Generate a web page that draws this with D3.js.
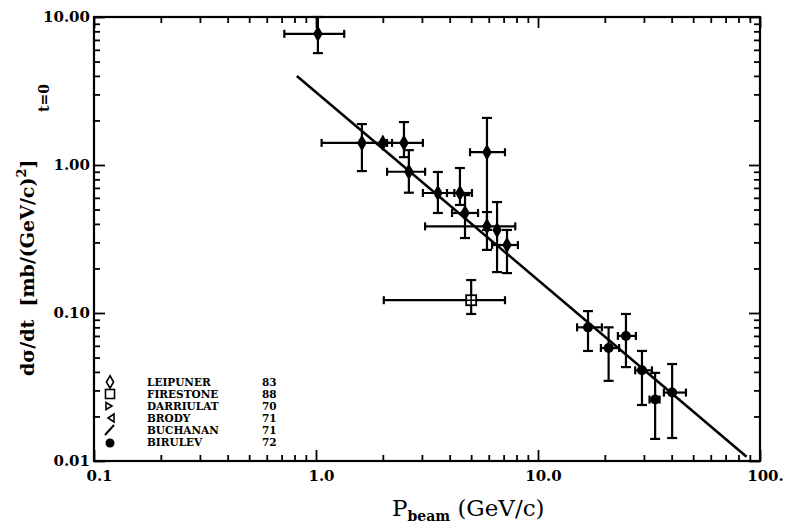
<!DOCTYPE html>
<html><head><meta charset="utf-8">
<script src="https://cdn.jsdelivr.net/npm/d3@7"></script>
<style>body{margin:0;background:#fff}</style></head>
<body><svg id="c" width="788" height="527"></svg>
<script>
// ---- data ----
const pBeam  = [1.02, 1.61, 2.00, 2.49, 2.62, 3.54, 4.45, 4.69, 5.89, 5.89, 6.54, 7.25, 5.0, 16.8, 20.8, 24.9, 29.4, 33.7, 40.2];
const sigma  = [7.7, 1.41, 1.41, 1.41, 0.90, 0.647, 0.647, 0.474, 1.22, 0.385, 0.364, 0.288, 0.122, 0.080, 0.058, 0.070, 0.041, 0.026, 0.029];
const pLow   = [0.72, 1.06, 2.00, 2.09, 2.09, 3.03, 3.89, 4.10, 4.94, 3.10, 6.54, 6.21, 2.02, 15.0, 19.2, 22.9, 27.4, 31.8, 36.9];
const pHigh  = [1.34, 2.20, 2.00, 3.03, 3.10, 4.20, 5.04, 5.37, 7.10, 7.90, 6.54, 8.12, 7.10, 19.4, 23.2, 27.6, 32.6, 35.3, 46.4];
const sLow   = [5.7, 0.91, 1.41, 1.13, 0.65, 0.474, 0.537, 0.321, 0.364, 0.267, 0.189, 0.186, 0.0985, 0.0554, 0.0348, 0.0431, 0.0239, 0.0141, 0.0143];
const sHigh  = [10.0, 1.89, 1.41, 1.95, 1.26, 0.897, 0.954, 0.626, 2.08, 0.481, 0.562, 0.364, 0.167, 0.103, 0.080, 0.0985, 0.0554, 0.0394, 0.0452];
const marker = ["diamond","diamond","diamond","diamond","diamond","diamond","diamond","diamond","diamond","diamond","diamond","diamond","square","circle","circle","circle","circle","circle","circle"];

const fitP = [0.82, 87];
const fitS = [4.0, 0.0107];

const xTickValues = [0.1, 1, 10, 100];
const xTickLabels = ["0.1", "1.0", "10.0", "100."];
const yTickValues = [0.01, 0.1, 1, 10];
const yTickLabels = ["0.01", "0.10", "1.00", "10.00"];

const legendNames = ["LEIPUNER", "FIRESTONE", "DARRIULAT", "BRODY", "BUCHANAN", "BIRULEV"];
const legendYears = ["83", "88", "70", "71", "71", "72"];
const legendSym   = ["odiamond", "osquare", "rtri", "ltri", "slash", "circle"];

// ---- layout ----
const L = 94, R = 760, T = 17, B = 461;
const svg = d3.select("#c");
const x = d3.scaleLog().domain([0.1, 100]).range([L, R]);
const y = d3.scaleLog().domain([0.01, 10]).range([B, T]);
const serifB = "'DejaVu Serif', 'Liberation Serif', serif";

const minorX = x.ticks().filter(v => !xTickValues.some(m => Math.abs(m - v) < 1e-9));
const minorY = y.ticks().filter(v => !yTickValues.some(m => Math.abs(m - v) < 1e-9));

function styleAxis(g) {
  g.select(".domain").remove();
  g.selectAll("line").attr("stroke", "#000").attr("stroke-width", 1.8);
}
// bottom
svg.append("g").attr("transform", `translate(0,${B})`)
  .call(d3.axisBottom(x).tickValues(minorX).tickSize(-6).tickFormat("")).call(styleAxis);
svg.append("g").attr("transform", `translate(0,${B})`)
  .call(d3.axisBottom(x).tickValues(xTickValues).tickSize(-11).tickPadding(9)
        .tickFormat((d, i) => xTickLabels[i])).call(styleAxis)
  .selectAll("text").attr("font-family", serifB).attr("font-weight", "bold")
  .attr("font-size", 15).attr("fill", "#000").attr("dx", 5);
// top
svg.append("g").attr("transform", `translate(0,${T})`)
  .call(d3.axisTop(x).tickValues(minorX).tickSize(-6).tickFormat("")).call(styleAxis);
svg.append("g").attr("transform", `translate(0,${T})`)
  .call(d3.axisTop(x).tickValues(xTickValues).tickSize(-11).tickFormat("")).call(styleAxis);
// left
svg.append("g").attr("transform", `translate(${L},0)`)
  .call(d3.axisLeft(y).tickValues(minorY).tickSize(-6).tickFormat("")).call(styleAxis);
svg.append("g").attr("transform", `translate(${L},0)`)
  .call(d3.axisLeft(y).tickValues(yTickValues).tickSize(-11).tickPadding(4)
        .tickFormat((d, i) => yTickLabels[i])).call(styleAxis)
  .selectAll("text").attr("font-family", serifB).attr("font-weight", "bold")
  .attr("font-size", 15).attr("fill", "#000");
// right
svg.append("g").attr("transform", `translate(${R},0)`)
  .call(d3.axisRight(y).tickValues(minorY).tickSize(-6).tickFormat("")).call(styleAxis);
svg.append("g").attr("transform", `translate(${R},0)`)
  .call(d3.axisRight(y).tickValues(yTickValues).tickSize(-11).tickFormat("")).call(styleAxis);

// frame
svg.append("rect").attr("x", L).attr("y", T).attr("width", R - L).attr("height", B - T)
  .attr("fill", "none").attr("stroke", "#000").attr("stroke-width", 2.2);

// fit line
svg.append("line")
  .attr("x1", x(fitP[0])).attr("y1", y(fitS[0]))
  .attr("x2", x(fitP[1])).attr("y2", y(fitS[1]))
  .attr("stroke", "#000").attr("stroke-width", 2.6);

// error bars
const eg = svg.append("g").attr("stroke", "#000").attr("stroke-width", 2.2).attr("fill", "none");
const cap = 5;
pBeam.forEach((p, i) => {
  const cx = x(p), cy = y(sigma[i]);
  if (pLow[i] < pHigh[i]) {
    const x1 = x(pLow[i]), x2 = x(pHigh[i]);
    eg.append("line").attr("x1", x1).attr("x2", x2).attr("y1", cy).attr("y2", cy);
    eg.append("line").attr("x1", x1).attr("x2", x1).attr("y1", cy - 4).attr("y2", cy + 4);
    eg.append("line").attr("x1", x2).attr("x2", x2).attr("y1", cy - 4).attr("y2", cy + 4);
  }
  if (sLow[i] < sHigh[i]) {
    const y1 = y(sLow[i]), y2 = y(sHigh[i]);
    eg.append("line").attr("x1", cx).attr("x2", cx).attr("y1", y1).attr("y2", y2);
    eg.append("line").attr("x1", cx - cap).attr("x2", cx + cap).attr("y1", y1).attr("y2", y1);
    eg.append("line").attr("x1", cx - cap).attr("x2", cx + cap).attr("y1", y2).attr("y2", y2);
  }
});

// markers
const mg = svg.append("g");
pBeam.forEach((p, i) => {
  const cx = x(p), cy = y(sigma[i]);
  if (marker[i] === "circle") {
    mg.append("circle").attr("cx", cx).attr("cy", cy).attr("r", 5).attr("fill", "#000");
  } else if (marker[i] === "square") {
    mg.append("rect").attr("x", cx - 5).attr("y", cy - 5).attr("width", 10).attr("height", 10)
      .attr("fill", "#fff").attr("stroke", "#000").attr("stroke-width", 1.8);
    mg.append("line").attr("x1", cx - 5).attr("x2", cx + 5).attr("y1", cy).attr("y2", cy).attr("stroke", "#000").attr("stroke-width", 1.5);
    mg.append("line").attr("x1", cx).attr("x2", cx).attr("y1", cy - 5).attr("y2", cy + 5).attr("stroke", "#000").attr("stroke-width", 1.5);
  } else {
    mg.append("path").attr("transform", `translate(${cx},${cy})`)
      .attr("d", d3.symbol(d3.symbolDiamond, 80)()).attr("fill", "#000");
  }
});

// legend
const lg = svg.append("g");
legendNames.forEach((name, i) => {
  const cy = 382 + i * 12, sx = 110;
  const s = legendSym[i];
  if (s === "odiamond") {
    lg.append("path").attr("transform", `translate(${sx},${cy})`).attr("d", d3.symbol(d3.symbolDiamond, 45)())
      .attr("fill", "none").attr("stroke", "#000").attr("stroke-width", 1.6);
  } else if (s === "osquare") {
    lg.append("rect").attr("x", sx - 4.5).attr("y", cy - 4.5).attr("width", 9).attr("height", 9)
      .attr("fill", "none").attr("stroke", "#000").attr("stroke-width", 1.6);
  } else if (s === "rtri") {
    lg.append("path").attr("d", `M${sx - 4},${cy - 3.5}L${sx + 2},${cy}L${sx - 4},${cy + 3.5}Z`)
      .attr("fill", "none").attr("stroke", "#000").attr("stroke-width", 1.6);
  } else if (s === "ltri") {
    lg.append("path").attr("d", `M${sx + 4},${cy - 4}L${sx - 2},${cy}L${sx + 4},${cy + 4}Z`)
      .attr("fill", "none").attr("stroke", "#000").attr("stroke-width", 1.6);
  } else if (s === "slash") {
    lg.append("line").attr("x1", sx - 5).attr("y1", cy + 5).attr("x2", sx + 4).attr("y2", cy - 5)
      .attr("stroke", "#000").attr("stroke-width", 2);
  } else {
    lg.append("circle").attr("cx", sx).attr("cy", cy + 1).attr("r", 4.5).attr("fill", "#000");
  }
  lg.append("text").attr("x", 147).attr("y", cy + 4).text(name)
    .attr("font-family", serifB).attr("font-weight", "bold").attr("font-size", 10.5);
  lg.append("text").attr("x", 262).attr("y", cy + 4).text(legendYears[i])
    .attr("font-family", serifB).attr("font-weight", "bold").attr("font-size", 10.5);
});

// y title
const yt = svg.append("text").attr("transform", "translate(34,376) rotate(-90)")
  .attr("font-family", serifB).attr("font-weight", "bold").attr("font-size", 19).attr("fill", "#000");
yt.append("tspan").text("dσ/dt\u00a0\u00a0[mb/(GeV/c)");
yt.append("tspan").text("2").attr("font-size", 13).attr("dy", -8);
yt.append("tspan").text("]").attr("dy", 8);
svg.append("text").attr("transform", "translate(49,112) rotate(-90)")
  .attr("font-family", serifB).attr("font-weight", "bold").attr("font-size", 14).text("t=0");

// x title
const xt = svg.append("text").attr("x", 392).attr("y", 516)
  .attr("font-family", "'DejaVu Serif', serif").attr("font-size", 23).attr("fill", "#000");
xt.append("tspan").text("P");
xt.append("tspan").text("beam").attr("font-size", 14).attr("font-weight", "bold").attr("dy", 5);
xt.append("tspan").text("\u00a0(GeV/c)").attr("dy", -5);
</script>
</body></html>
